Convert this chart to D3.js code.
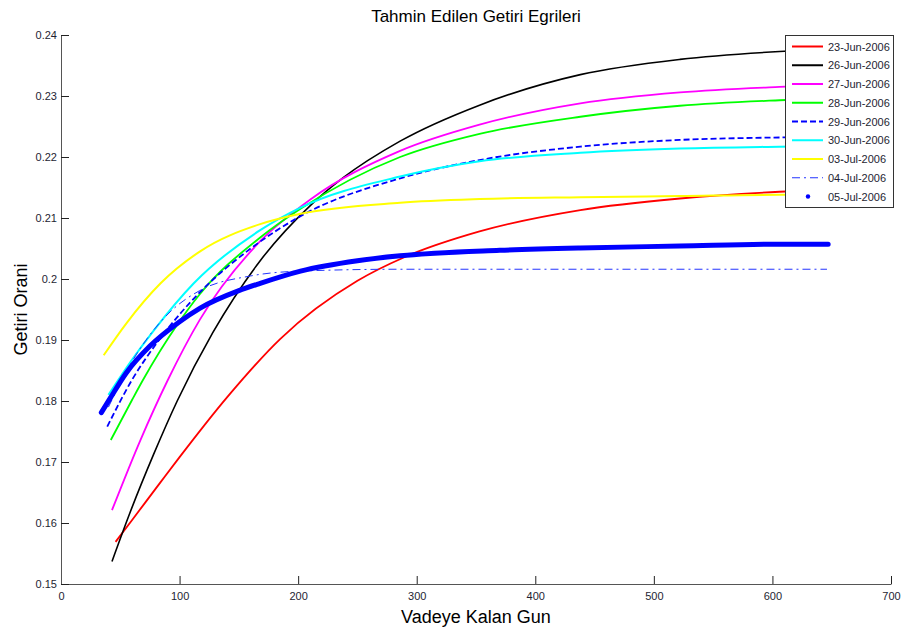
<!DOCTYPE html>
<html lang="tr">
	<head>
		<meta charset="utf-8">
		<title>Tahmin Edilen Getiri Egrileri</title>
		<script type="text/javascript" src="https://cdn.jsdelivr.net/npm/d3@7"></script>
		<style type="text/css">
			body {
				margin: 0px;
				background: white;
			}
			text {
				font-family: "Liberation Sans", Arial, sans-serif;
			}
			.axis text {
				font-size: 11px;
				fill: #1e1e32;
			}
			.axis path {
				stroke: #555;
			}
			.axis line {
				stroke: #222;
			}
		</style>
	</head>
	<body>
		<script type="text/javascript">
			//Data (days to maturity, yield)
			var dates = ["23-Jun-2006", "26-Jun-2006", "27-Jun-2006", "28-Jun-2006", "29-Jun-2006",
				"30-Jun-2006", "03-Jul-2006", "04-Jul-2006", "05-Jul-2006"];

			var days_23jun = [46, 60, 84, 100, 140, 185, 250, 290, 353, 438, 522, 606, 646];
			var yield_23jun = [0.1569, 0.1605, 0.1667, 0.1708, 0.1806, 0.1902, 0.1997, 0.2036, 0.2078, 0.2113, 0.2132, 0.2143, 0.2146];

			var days_26jun = [43, 58, 78, 98, 128, 168, 210, 238, 286, 353, 438, 522, 606, 646];
			var yield_26jun = [0.1537, 0.1616, 0.1712, 0.1800, 0.1912, 0.2030, 0.2120, 0.2166, 0.2226, 0.2285, 0.2335, 0.2360, 0.2373, 0.2377];

			var days_27jun = [43, 67, 90, 117, 168, 210, 286, 353, 438, 522, 606, 646];
			var yield_27jun = [0.1621, 0.1736, 0.1834, 0.1933, 0.2062, 0.2130, 0.2210, 0.2253, 0.2288, 0.2306, 0.2315, 0.2318];

			var days_28jun = [42, 60, 69, 98, 117, 168, 202, 286, 353, 438, 522, 606, 646];
			var yield_28jun = [0.1736, 0.1802, 0.1834, 0.1925, 0.1975, 0.2068, 0.2115, 0.2200, 0.2238, 0.2266, 0.2284, 0.2293, 0.2296];

			var days_29jun = [39, 60, 80, 100, 117, 160, 202, 286, 353, 438, 522, 606, 646];
			var yield_29jun = [0.1758, 0.1835, 0.1893, 0.1942, 0.1978, 0.2050, 0.2103, 0.2165, 0.2195, 0.2217, 0.2228, 0.2232, 0.2233];

			var days_30jun = [40, 60, 78, 112, 168, 202, 286, 353, 438, 522, 606, 646];
			var yield_30jun = [0.1810, 0.1868, 0.1915, 0.1993, 0.2080, 0.2117, 0.2168, 0.2193, 0.2207, 0.2214, 0.2217, 0.2218];

			var days_03jul = [36, 55, 84, 117, 168, 202, 286, 353, 438, 522, 606, 646];
			var yield_03jul = [0.1875, 0.1927, 0.1993, 0.2045, 0.2090, 0.2107, 0.2125, 0.2131, 0.2134, 0.2136, 0.2138, 0.2138];

			var days_04jul = [40, 60, 78, 92, 117, 160, 202, 286, 438, 646];
			var yield_04jul = [0.1790, 0.1865, 0.1916, 0.1946, 0.1981, 0.2005, 0.2013, 0.2016, 0.2016, 0.2016];

			var days_05jul = [34, 41, 55, 75, 100, 117, 150, 168, 202, 250, 286, 370, 438, 522, 606, 647];
			var yield_05jul = [0.1781, 0.1803, 0.1846, 0.1890, 0.1930, 0.1952, 0.1981, 0.1993, 0.2013, 0.2030, 0.2038, 0.2047, 0.2051, 0.2054, 0.2057, 0.2057];

			//Axis ticks
			var x_ticks = [0, 100, 200, 300, 400, 500, 600, 700];
			var y_ticks = [0.15, 0.16, 0.17, 0.18, 0.19, 0.2, 0.21, 0.22, 0.23, 0.24];

			var series = [
				{name: dates[0], days: days_23jun, vals: yield_23jun, color: "#ff0000", width: 1.8, dash: null},
				{name: dates[1], days: days_26jun, vals: yield_26jun, color: "#000000", width: 1.6, dash: null},
				{name: dates[2], days: days_27jun, vals: yield_27jun, color: "#ff00ff", width: 1.8, dash: null},
				{name: dates[3], days: days_28jun, vals: yield_28jun, color: "#00ff00", width: 1.8, dash: null},
				{name: dates[4], days: days_29jun, vals: yield_29jun, color: "#0000ff", width: 1.8, dash: "6,3"},
				{name: dates[5], days: days_30jun, vals: yield_30jun, color: "#00ffff", width: 2, dash: null},
				{name: dates[6], days: days_03jul, vals: yield_03jul, color: "#ffff00", width: 2, dash: null},
				{name: dates[7], days: days_04jul, vals: yield_04jul, color: "#2233ff", width: 1, dash: "8,4,2,4"},
				{name: dates[8], days: days_05jul, vals: yield_05jul, color: "#0000ff", width: 5, dash: null, dot: true}
			];

			//Width and height
			var w = 904;
			var h = 632;
			var margin = {top: 35, right: 13, bottom: 48, left: 61};

			var svg = d3.select("body")
				.append("svg")
				.attr("width", w)
				.attr("height", h);

			var x = d3.scaleLinear()
				.domain([0, 700])
				.range([margin.left, w - margin.right]);

			var y = d3.scaleLinear()
				.domain([0.15, 0.24])
				.range([h - margin.bottom, margin.top]);

			//Axes (ticks pointing inside, MATLAB style)
			svg.append("g")
				.attr("class", "axis")
				.attr("transform", "translate(0," + (h - margin.bottom) + ")")
				.call(d3.axisBottom(x).tickValues(x_ticks).tickSizeInner(-8).tickSizeOuter(0).tickPadding(8).tickFormat(d3.format("d")));

			svg.append("g")
				.attr("class", "axis")
				.attr("transform", "translate(" + margin.left + ",0)")
				.call(d3.axisLeft(y).tickValues(y_ticks).tickSizeInner(-8).tickSizeOuter(0).tickPadding(4)
					.tickFormat(function(d) { return String(+d.toFixed(2)); }));

			//Curves
			var line = d3.line()
				.x(function(d) { return x(d[0]); })
				.y(function(d) { return y(d[1]); })
				.curve(d3.curveMonotoneX);

			series.forEach(function(s) {
				var pts = s.days.map(function(d, i) { return [d, s.vals[i]]; });
				svg.append("path")
					.attr("d", line(pts))
					.attr("fill", "none")
					.attr("stroke", s.color)
					.attr("stroke-width", s.width)
					.attr("stroke-dasharray", s.dash)
					.attr("stroke-linecap", s.dot ? "round" : "butt");
			});

			//Legend
			var lx = 785, ly = 35, lw = 108, row = 18.75;
			var legend = svg.append("g");
			legend.append("rect")
				.attr("x", lx + 0.5)
				.attr("y", ly + 0.5)
				.attr("width", lw)
				.attr("height", 172)
				.attr("fill", "white")
				.attr("stroke", "#333");

			series.forEach(function(s, i) {
				var cy = ly + 11.5 + i * row;
				if (s.dot) {
					legend.append("circle")
						.attr("cx", lx + 23)
						.attr("cy", cy)
						.attr("r", 2.2)
						.attr("fill", s.color);
				} else {
					legend.append("line")
						.attr("x1", lx + 7)
						.attr("x2", lx + 38)
						.attr("y1", cy)
						.attr("y2", cy)
						.attr("stroke", s.color)
						.attr("stroke-width", s.width > 1 ? 2 : 1)
						.attr("stroke-dasharray", s.dash);
				}
				legend.append("text")
					.attr("x", lx + 43)
					.attr("y", cy + 4)
					.style("font-size", "11px")
					.style("fill", "#1e1e32")
					.text(s.name);
			});

			//Title and axis labels
			svg.append("text")
				.attr("x", (margin.left + w - margin.right) / 2)
				.attr("y", 22)
				.attr("text-anchor", "middle")
				.style("font-size", "17px")
				.text("Tahmin Edilen Getiri Egrileri");

			svg.append("text")
				.attr("x", (margin.left + w - margin.right) / 2)
				.attr("y", 623)
				.attr("text-anchor", "middle")
				.style("font-size", "18px")
				.text("Vadeye Kalan Gun");

			svg.append("text")
				.attr("transform", "translate(27," + ((margin.top + h - margin.bottom) / 2) + ") rotate(-90)")
				.attr("text-anchor", "middle")
				.style("font-size", "18px")
				.text("Getiri Orani");
		</script>
	</body>
</html>
